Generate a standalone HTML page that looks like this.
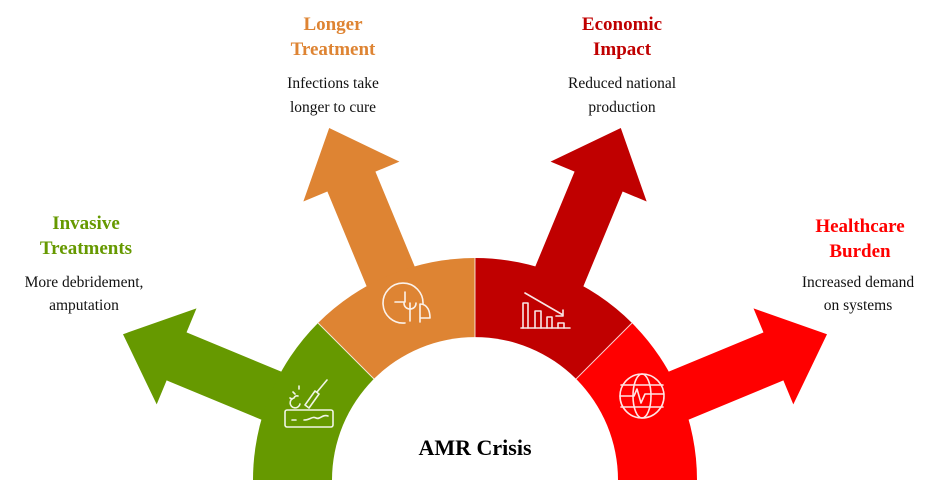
<!DOCTYPE html>
<html><head><meta charset="utf-8"><style>
html,body{margin:0;padding:0;background:#fff;width:940px;height:498px;overflow:hidden;}
svg{display:block;}
text{font-family:"Liberation Serif",serif;}
.t{font-weight:bold;font-size:19px;text-anchor:middle;}
.b{font-size:15.5px;text-anchor:middle;fill:#111;}
.ic{fill:none;stroke:#fff;stroke-width:1.6;stroke-linecap:round;stroke-linejoin:round;opacity:.9}
</style></head><body>
<svg width="940" height="498" viewBox="0 0 940 498" xmlns="http://www.w3.org/2000/svg" overflow="hidden">
<polygon fill="#669900" transform="translate(475,480) rotate(-157.5)" points="150,-26 323,-26 323,-52 381,0 323,52 323,26 150,26"/>
<polygon fill="#DE8433" transform="translate(475,480) rotate(-112.5)" points="150,-26 323,-26 323,-52 381,0 323,52 323,26 150,26"/>
<polygon fill="#C00000" transform="translate(475,480) rotate(-67.5)" points="150,-26 323,-26 323,-52 381,0 323,52 323,26 150,26"/>
<polygon fill="#FF0000" transform="translate(475,480) rotate(-22.5)" points="150,-26 323,-26 323,-52 381,0 323,52 323,26 150,26"/>
<path d="M253,480 A222,222 0 0 1 318.02,323.02 L475,480 Z" fill="#669900"/>
<path d="M318.02,323.02 A222,222 0 0 1 475,258 L475,480 Z" fill="#DE8433"/>
<path d="M475,258 A222,222 0 0 1 631.98,323.02 L475,480 Z" fill="#C00000"/>
<path d="M631.98,323.02 A222,222 0 0 1 697,480 L475,480 Z" fill="#FF0000"/>
<line x1="475" y1="480" x2="475" y2="258" stroke="#fff" stroke-width="1" opacity=".8"/>
<line x1="475" y1="480" x2="318.02" y2="323.02" stroke="#fff" stroke-width="1" opacity=".8"/>
<line x1="475" y1="480" x2="631.98" y2="323.02" stroke="#fff" stroke-width="1" opacity=".8"/>
<path d="M332,480 A143,143 0 0 1 618,480 Z" fill="#fff"/>
<rect x="235" y="480" width="480" height="18" fill="#fff"/>
<g class="ic">
<rect x="285" y="410" width="48" height="17" rx="2"/>
<path d="M292,420 h4 M304,420 c6,0 8,-4 12,-2 s6,-4 12,-2"/>
<path d="M300,404 a5,5 0 1 1 -6,-6 a3,3 0 0 1 4,-2"/>
<path d="M305,405 l10,-14 l4,3 l-10,14 z M317,392 l10,-12"/>
<path d="M293,392 l2,2 M299,386 v3 M290,398 l2,1"/>
</g>
<g class="ic">
<path d="M423,304 A20,20 0 1 0 405,323"/>
<path d="M395,302 h10 v-10"/>
<path d="M410,321 v-18 M404,303 c0,8 12,8 12,0"/>
<path d="M420,322 v-18 c8,0 10,8 10,14 h-10"/>
</g>
<g class="ic">
<path d="M521,328 h49"/>
<path d="M523,328 v-25 h5 v25 M535,328 v-17 h6 v17 M547,328 v-11 h5 v11 M558,328 v-5 h6 v5"/>
<path d="M525,293 l38,22 M556,316 h7 v-6"/>
</g>
<g class="ic">
<circle cx="642" cy="396" r="22"/>
<ellipse cx="642" cy="396" rx="9" ry="22"/>
<path d="M621,385 h42 M621,407 h42 M620,396 h14 l3,-7 l4,14 l4,-9 h19"/>
</g>
<text class="t" x="333" y="30" fill="#DE8433">Longer</text>
<text class="t" x="333" y="55" fill="#DE8433">Treatment</text>
<text class="b" x="333" y="88">Infections  take</text>
<text class="b" x="333" y="112">longer  to cure</text>
<text class="t" x="622" y="30" fill="#C00000">Economic</text>
<text class="t" x="622" y="55" fill="#C00000">Impact</text>
<text class="b" x="622" y="88">Reduced national</text>
<text class="b" x="622" y="112">production</text>
<text class="t" x="86" y="229" fill="#669900">Invasive</text>
<text class="t" x="86" y="254" fill="#669900">Treatments</text>
<text class="b" x="84" y="287">More debridement,</text>
<text class="b" x="84" y="310">amputation</text>
<text class="t" x="860" y="232" fill="#FF0000">Healthcare</text>
<text class="t" x="860" y="257" fill="#FF0000">Burden</text>
<text class="b" x="858" y="287">Increased demand</text>
<text class="b" x="858" y="310">on systems</text>
<text x="475" y="455" style="font-weight:bold;font-size:22px;text-anchor:middle;fill:#000">AMR Crisis</text>
</svg>
</body></html>
